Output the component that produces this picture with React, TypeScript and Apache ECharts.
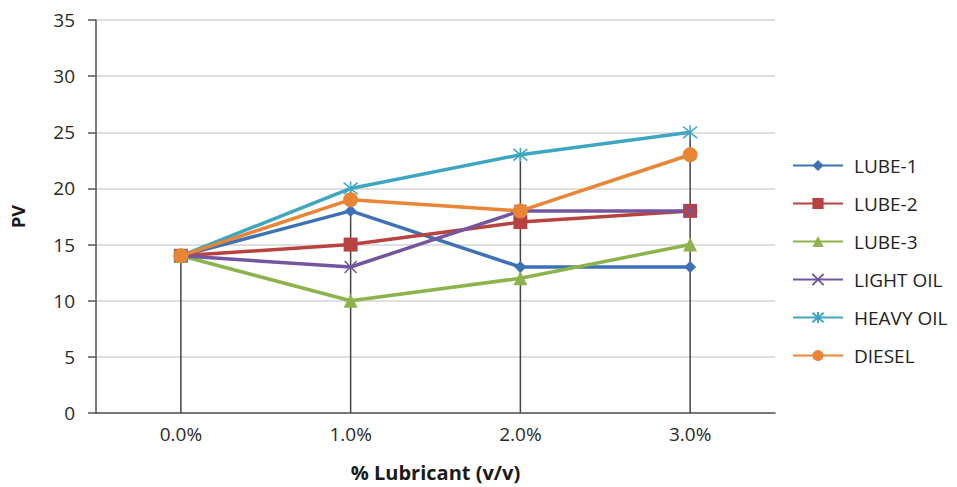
import React, { useEffect, useRef } from "react";
import * as echarts from "echarts";

const categories = ["0.0%", "1.0%", "2.0%", "3.0%"];
const lube1 = [14, 18, 13, 13];
const lube2 = [14, 15, 17, 18];
const lube3 = [14, 10, 12, 15];
const lightOil = [14, 13, 18, 18];
const heavyOil = [14, 20, 23, 25];
const diesel = [14, 19, 18, 23];
const yTicks = { min: 0, max: 35, interval: 5 };

const FONT = "'Open Sans', Lato, sans-serif";

const crossPath = "path://M0,0L10,10M10,0L0,10";
const starPath = "path://M0,0L10,10M10,0L0,10M5,-1L5,11";

export default function App() {
  const ref = useRef<HTMLDivElement>(null);

  useEffect(() => {
    if (!ref.current) return;
    const chart = echarts.init(ref.current, undefined, { renderer: "svg" });

    const all = [lube1, lube2, lube3, lightOil, heavyOil, diesel];
    const dropTops = categories.map((_, i) => Math.max(...all.map((s) => s[i])));

    const lineSeries = (
      name: string,
      data: number[],
      color: string,
      symbol: string,
      symbolSize: number,
      outline = false
    ) => ({
      name,
      type: "line",
      data,
      symbol,
      symbolSize,
      z: 3,
      lineStyle: { color, width: 3.5 },
      itemStyle: outline
        ? { color: "transparent", borderColor: color, borderWidth: 1.5 }
        : { color },
      color,
    });

    chart.setOption({
      animation: false,
      backgroundColor: "#ffffff",
      grid: { left: 96, right: 182, top: 20, bottom: 74 },
      legend: {
        orient: "vertical",
        left: 792,
        top: 156,
        padding: 0,
        itemWidth: 50,
        itemHeight: 14,
        itemGap: 19,
        textStyle: {
          fontFamily: FONT,
          fontSize: 19,
          lineHeight: 19,
          color: "#222",
          padding: [0, 0, 0, 6],
        },
        data: ["LUBE-1", "LUBE-2", "LUBE-3", "LIGHT OIL", "HEAVY OIL", "DIESEL"],
      },
      xAxis: {
        type: "category",
        data: categories,
        boundaryGap: true,
        name: "% Lubricant (v/v)",
        nameLocation: "middle",
        nameGap: 49,
        nameTextStyle: { fontFamily: FONT, fontSize: 20, fontWeight: "bold", color: "#1a1a1a" },
        axisLine: { lineStyle: { color: "#555", width: 1.5 } },
        axisTick: { show: false },
        axisLabel: { fontFamily: FONT, fontSize: 19, color: "#2a2a2a", margin: 11 },
        splitLine: { show: false },
      },
      yAxis: {
        type: "value",
        ...yTicks,
        name: "PV",
        nameLocation: "middle",
        nameGap: 69,
        nameTextStyle: { fontFamily: FONT, fontSize: 18, fontWeight: "bold", color: "#1a1a1a" },
        axisLine: { show: true, lineStyle: { color: "#555", width: 1.5 } },
        axisTick: { show: true, length: 8, lineStyle: { color: "#555", width: 1.5 } },
        axisLabel: { fontFamily: FONT, fontSize: 19, color: "#2a2a2a", margin: 21 },
        splitLine: { lineStyle: { color: "#d4d4d4", width: 1.5 } },
      },
      series: [
        {
          name: "drop",
          type: "bar",
          data: dropTops,
          barWidth: 1.5,
          z: 1,
          itemStyle: { color: "#444" },
          silent: true,
        },
        lineSeries("LUBE-1", lube1, "#3e72b6", "diamond", 12),
        lineSeries("LUBE-2", lube2, "#b8423f", "rect", 14),
        lineSeries("LUBE-3", lube3, "#8db44c", "triangle", 14),
        lineSeries("LIGHT OIL", lightOil, "#7455a0", crossPath, 12, true),
        lineSeries("HEAVY OIL", heavyOil, "#3fa6c2", starPath, 14, true),
        lineSeries("DIESEL", diesel, "#e98535", "circle", 15),
      ],
    });

    return () => chart.dispose();
  }, []);

  return (
    <div
      ref={ref}
      style={{ position: "fixed", left: 0, top: 0, width: 957, height: 487 }}
    />
  );
}
